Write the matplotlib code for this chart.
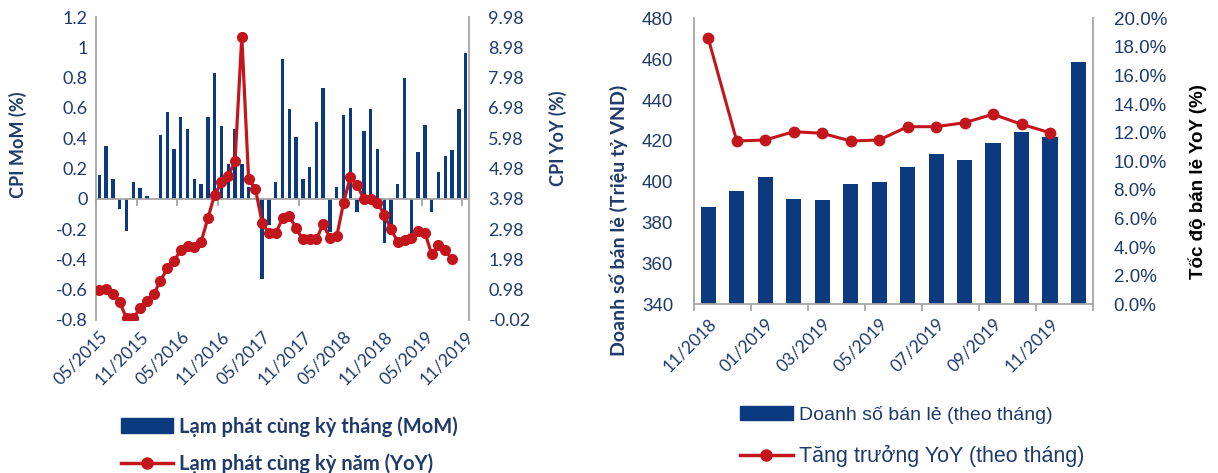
import numpy as np
import matplotlib
matplotlib.use("Agg")
import matplotlib.pyplot as plt
from matplotlib.patches import Patch
from matplotlib.lines import Line2D
from matplotlib.ticker import FuncFormatter

plt.rcParams['font.family'] = ['Lato', 'DejaVu Sans']

# ---------------- data: left chart (CPI) ----------------
cpi_mom = [0.16, 0.35, 0.13, -0.07, -0.21, 0.11, 0.07, 0.02,
           0.00, 0.42, 0.57, 0.33, 0.54, 0.46, 0.13, 0.10, 0.54, 0.83, 0.48, 0.23,
           0.46, 0.23, 0.08, 0.00, -0.53, -0.17, 0.11, 0.92, 0.59, 0.41, 0.13, 0.21,
           0.51, 0.73, -0.22, 0.08, 0.55, 0.60, -0.09, 0.45, 0.59, 0.33, -0.29, -0.24,
           0.10, 0.80, -0.23, 0.31, 0.49, -0.09, 0.18, 0.28, 0.32, 0.59, 0.96]
cpi_yoy = [0.96, 0.99, 0.85, 0.57, 0.03, 0.03, 0.37, 0.61,
           0.83, 1.27, 1.68, 1.93, 2.29, 2.42, 2.39, 2.56, 3.34, 4.12, 4.52, 4.73,
           5.23, 9.33, 4.64, 4.31, 3.19, 2.84, 2.84, 3.33, 3.42, 3.00, 2.64, 2.64,
           2.64, 3.16, 2.67, 2.74, 3.85, 4.69, 4.45, 3.96, 3.96, 3.85, 3.46, 2.97,
           2.56, 2.61, 2.67, 2.91, 2.86, 2.15, 2.45, 2.28, 1.98, np.nan, np.nan]
cpi_tick_labels = ['05/2015', '11/2015', '05/2016', '11/2016', '05/2017',
                   '11/2017', '05/2018', '11/2018', '05/2019', '11/2019']
mom_ticks = [-0.8, -0.6, -0.4, -0.2, 0.0, 0.2, 0.4, 0.6, 0.8, 1.0, 1.2]
yoy_ticks = [-0.02, 0.98, 1.98, 2.98, 3.98, 4.98, 5.98, 6.98, 7.98, 8.98, 9.98]

# ---------------- data: right chart (retail) ----------------
retail_months = ['11/2018', '12/2018', '01/2019', '02/2019', '03/2019', '04/2019', '05/2019',
                 '06/2019', '07/2019', '08/2019', '09/2019', '10/2019', '11/2019', '12/2019']
retail_sales = [387.5, 395.6, 402.2, 391.7, 391.2, 398.9, 400.0,
                407.4, 413.6, 410.6, 419.1, 424.5, 422.0, 458.6]
retail_growth = [18.6, 11.42, 11.49, 12.07, 11.96, 11.42, 11.49,
                 12.42, 12.42, 12.70, 13.29, 12.59, 12.00, np.nan]
sales_ticks = [340, 360, 380, 400, 420, 440, 460, 480]
growth_ticks = [0, 2, 4, 6, 8, 10, 12, 14, 16, 18, 20]

NAVY = '#0B3A7E'
RED = '#C3161C'
TXT = '#1F3A6B'
GRAY = '#A6A6A6'
W, H = 1218, 473

fig = plt.figure(figsize=(W / 100, H / 100), dpi=100)

# ================= left chart =================
ax1 = fig.add_axes([96 / W, 1 - 320 / H, 373 / W, 303 / H])
x = np.arange(len(cpi_mom))
ax1.bar(x, cpi_mom, width=0.5, color=NAVY, zorder=2)
ax1.set_xlim(-0.5, len(x) - 0.5)
ax1.set_ylim(mom_ticks[0], mom_ticks[-1])
ax1.set_yticks(mom_ticks)
ax1.yaxis.set_major_formatter(FuncFormatter(lambda v, p: '{:g}'.format(round(v, 1) + 0.0)))
ax1.tick_params(axis='y', length=0, pad=6, labelsize=13, labelcolor=TXT)
for s in ['top', 'right']:
    ax1.spines[s].set_visible(False)
ax1.spines['left'].set_color(GRAY)
ax1.spines['left'].set_linewidth(1.3)
ax1.spines['bottom'].set_position(('data', 0))
ax1.spines['bottom'].set_color(GRAY)
ax1.spines['bottom'].set_linewidth(1.3)
ax1.set_xticks(np.arange(-0.5, len(x) - 0.5, 6))
ax1.set_xticklabels([])
ax1.tick_params(axis='x', length=5, width=1.3, color=GRAY, direction='out')

sec = ax1.secondary_xaxis('bottom')
sec.set_xticks(x[::6], labels=cpi_tick_labels)
for lab in sec.get_xticklabels():
    lab.set_rotation(45)
    lab.set_ha('right')
    lab.set_rotation_mode('anchor')
sec.tick_params(length=0, pad=6, labelsize=12.5, labelcolor=TXT)
sec.spines['bottom'].set_visible(False)

ax1.set_ylabel('CPI MoM (%)', fontsize=13, fontweight='bold', color=TXT)
ax1.yaxis.set_label_coords(-0.185, 0.58)

ax2 = ax1.twinx()
ax2.plot(x, cpi_yoy, color=RED, lw=2.3, marker='o', ms=7, zorder=3)
ax2.set_ylim(yoy_ticks[0], yoy_ticks[-1])
ax2.set_yticks(yoy_ticks)
ax2.yaxis.set_major_formatter(FuncFormatter(lambda v, p: '{:.2f}'.format(v)))
ax2.tick_params(axis='y', length=0, pad=14, labelsize=13, labelcolor=TXT)
for s in ['top', 'left', 'bottom']:
    ax2.spines[s].set_visible(False)
ax2.spines['right'].set_color(GRAY)
ax2.spines['right'].set_linewidth(1.3)
ax2.set_ylabel('CPI YoY (%)', fontsize=13, fontweight='bold', color=TXT)
ax2.yaxis.set_label_coords(1.2145, 0.60)

fig.legend([Patch(color=NAVY), Line2D([], [], color=RED, lw=2.5, marker='o', ms=8)],
           ['Lạm phát cùng kỳ tháng (MoM)', 'Lạm phát cùng kỳ năm (YoY)'],
           loc='upper left', bbox_to_anchor=(121 / W, 1 - 416 / H), frameon=False,
           prop={'weight': 'bold', 'size': 14.5}, labelcolor=TXT,
           handlelength=2.6, handletextpad=0.3, labelspacing=0.85,
           borderpad=0, borderaxespad=0)

# ================= right chart =================
ax3 = fig.add_axes([694 / W, 1 - 304.3 / H, 398.7 / W, 286 / H])
xr = np.arange(len(retail_sales))
ax3.bar(xr, retail_sales, width=0.53, color=NAVY, zorder=2)
ax3.set_xlim(-0.5, len(xr) - 0.5)
ax3.set_ylim(sales_ticks[0], sales_ticks[-1])
ax3.set_yticks(sales_ticks)
ax3.tick_params(axis='y', length=0, pad=15, labelcolor=TXT)
for lab in ax3.get_yticklabels():
    lab.set_family(['Liberation Sans'])
    lab.set_fontsize(13.5)
ax3.spines['top'].set_visible(False)
ax3.spines['right'].set_visible(False)
for s in ['left', 'bottom']:
    ax3.spines[s].set_color(GRAY)
    ax3.spines[s].set_linewidth(1.3)
ax3.set_xticks(np.arange(-0.5, len(xr), 2))
ax3.set_xticklabels([])
ax3.tick_params(axis='x', which='major', length=5, width=1.3, color=GRAY, direction='out')
ax3.set_xticks(xr[::2], minor=True)
ax3.set_xticklabels(retail_months[::2], minor=True, rotation=45, ha='right',
                    rotation_mode='anchor', fontsize=12.5, color=TXT)
ax3.tick_params(axis='x', which='minor', length=0, pad=8)
ax3.set_ylabel('Doanh số bán lẻ (Triệu tỷ VND)', fontsize=14, fontweight='bold', color=TXT)
ax3.yaxis.set_label_coords(-0.165, 0.295)

ax4 = ax3.twinx()
ax4.plot(xr, retail_growth, color=RED, lw=2.2, marker='o', ms=7.5, zorder=3)
ax4.set_ylim(growth_ticks[0], growth_ticks[-1])
ax4.set_yticks(growth_ticks)
ax4.yaxis.set_major_formatter(FuncFormatter(lambda v, p: '{:.1f}%'.format(v)))
ax4.tick_params(axis='y', length=0, pad=15, labelcolor=TXT)
for lab in ax4.get_yticklabels():
    lab.set_family(['Liberation Sans'])
    lab.set_fontsize(13.5)
for s in ['top', 'left', 'bottom']:
    ax4.spines[s].set_visible(False)
ax4.spines['right'].set_color(GRAY)
ax4.spines['right'].set_linewidth(1.3)
ax4.set_ylabel('Tốc độ bán lẻ YoY (%)', fontsize=13.5, fontweight='bold', color='black',
               family=['Liberation Sans'])
ax4.yaxis.set_label_coords(1.24, 0.43)

leg = fig.legend([Patch(color=NAVY), Line2D([], [], color=RED, lw=2.5, marker='o', ms=8)],
                 ['Doanh số bán lẻ (theo tháng)', 'Tăng trưởng YoY (theo tháng)'],
                 loc='upper left', bbox_to_anchor=(740 / W, 1 - 406 / H), frameon=False,
                 prop={'family': ['Liberation Sans'], 'size': 14}, labelcolor=TXT,
                 handlelength=2.7, handletextpad=0.35, labelspacing=1.05,
                 borderpad=0, borderaxespad=0)
leg.get_texts()[1].set_fontsize(15.5)

fig.savefig('out.png', dpi=100)
